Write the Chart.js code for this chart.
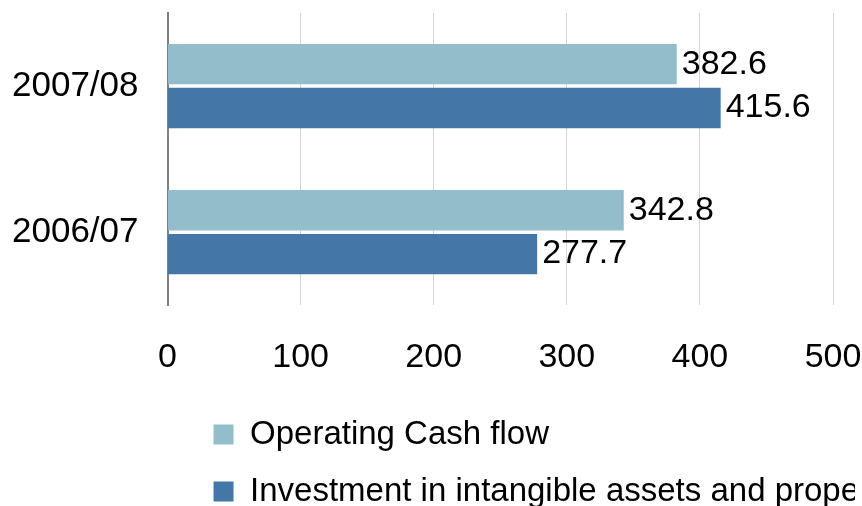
<!DOCTYPE html>
<html lang="en">
<head>
    <meta charset="UTF-8">
    <title>Cash flow vs investment</title>
    <script src="https://cdn.jsdelivr.net/npm/chart.js"></script>
    <style>
        html, body { margin: 0; padding: 0; overflow: hidden; background: #fff; }
        #box { width: 900px; height: 530px; }
    </style>
</head>
<body>
    <div id="box">
        <canvas id="myChart" width="900" height="530"></canvas>
    </div>

<script>
    const categorias = ['2007/08', '2006/07'];
    const operatingCashFlow = [382.6, 342.8];
    const investment = [415.6, 277.7];
    const nomesSeries = ['Operating Cash flow', 'Investment in intangible assets and property'];
    const coresSeries = ['#93BDCB', '#4477A7'];

    // writes the value at the end of each bar
    const rotulosBarras = {
        id: 'rotulosBarras',
        afterDatasetsDraw(chart) {
            const ctx = chart.ctx;
            ctx.save();
            ctx.font = '34px "Liberation Sans", Arial, sans-serif';
            ctx.fillStyle = '#000';
            ctx.textAlign = 'left';
            ctx.textBaseline = 'middle';
            chart.data.datasets.forEach((ds, i) => {
                chart.getDatasetMeta(i).data.forEach((bar, j) => {
                    ctx.fillText(ds.data[j].toFixed(1), bar.x + 5, bar.y);
                });
            });
            ctx.restore();
        }
    };

    // legend sits a bit to the right of the plot's left edge
    const moverLegenda = {
        id: 'moverLegenda',
        afterLayout(chart) {
            chart.legend.left += 22;
            chart.legend.right += 22;
        }
    };

    const ctx = document.getElementById('myChart');

    new Chart(ctx, {
        type: 'bar',
        data: {
            labels: categorias,
            datasets: [
                {
                    label: nomesSeries[0],
                    data: operatingCashFlow,
                    backgroundColor: coresSeries[0]
                },
                {
                    label: nomesSeries[1],
                    data: investment,
                    backgroundColor: coresSeries[1]
                }
            ]
        },
        options: {
            indexAxis: 'y',
            responsive: false,
            animation: false,
            categoryPercentage: 0.6,
            barPercentage: 0.92,
            layout: {
                padding: { top: 13, left: 12, right: 67, bottom: 12 }
            },
            scales: {
                x: {
                    min: 0,
                    max: 500,
                    ticks: {
                        stepSize: 100,
                        padding: 32,
                        color: '#000',
                        font: { family: '"Liberation Sans", Arial, sans-serif', size: 34 }
                    },
                    grid: {
                        color: '#D4D4D4',
                        lineWidth: 1,
                        drawTicks: false
                    },
                    border: { display: false },
                    afterFit: (scale) => { scale.height -= 16; }
                },
                y: {
                    ticks: {
                        padding: 29,
                        color: '#000',
                        font: { family: '"Liberation Sans", Arial, sans-serif', size: 35 }
                    },
                    grid: { display: false, drawTicks: false },
                    border: { display: true, color: '#7F7F7F', width: 2 },
                    afterFit: (scale) => {
                        scale.width -= 29;
                        scale.paddingTop = 0;
                        scale.paddingBottom = 0;
                    }
                }
            },
            plugins: {
                legend: {
                    position: 'bottom',
                    align: 'start',
                    fullSize: false,
                    labels: {
                        boxWidth: 20,
                        boxHeight: 20,
                        padding: 24,
                        color: '#000',
                        font: { family: '"Liberation Sans", Arial, sans-serif', size: 33 }
                    }
                },
                tooltip: { enabled: false }
            }
        },
        plugins: [rotulosBarras, moverLegenda]
    });
</script>
</body>
</html>
